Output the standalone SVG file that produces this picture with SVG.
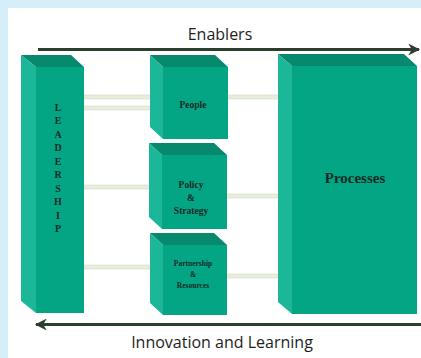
<svg xmlns="http://www.w3.org/2000/svg" width="421" height="358" viewBox="0 0 421 358">
<defs>
<style>
.front{fill:#03a585}
.left{fill:#1cb698}
.top{fill:#07896d}
.lbl{font-family:"Liberation Serif",serif;font-weight:bold;fill:#132a25;text-anchor:middle}
.cap{font-family:"Open Sans","Liberation Sans",sans-serif;font-size:16px;fill:#1e1e1e;text-anchor:middle}
.bar{fill:#e6eddc;stroke:#d2dcc6;stroke-width:0.6}
.arr{stroke:#2c3e2e;stroke-width:3;fill:none}
</style>
<marker id="ah" viewBox="0 0 10 10" refX="9" refY="5" markerWidth="4" markerHeight="4" orient="auto-start-reverse" markerUnits="strokeWidth">
<path d="M0,0 L10,5 L0,10 L3,5 Z" fill="#2c3e2e"/>
</marker>
</defs>
<rect x="0" y="0" width="421" height="358" fill="#d6eef9"/>
<rect x="8" y="8" width="413" height="350" fill="#ffffff"/>

<g id="connectors">
<line class="arr" x1="38" y1="49.5" x2="419" y2="49.5" marker-end="url(#ah)"/>
<line class="arr" x1="421" y1="324.5" x2="36" y2="324.5" marker-end="url(#ah)"/>
<rect class="bar" x="84" y="95" width="68" height="4"/>
<rect class="bar" x="84" y="106" width="68" height="4"/>
<rect class="bar" x="84" y="185" width="70" height="4"/>
<rect class="bar" x="84" y="265" width="67" height="4"/>
<rect class="bar" x="223" y="95" width="59" height="4"/>
<rect class="bar" x="223" y="194" width="59" height="4"/>
<rect class="bar" x="223" y="274" width="59" height="4"/>
</g>

<g id="leadership">
<polygon class="top" points="21,55 71,55 84,67 36,67"/>
<polygon class="left" points="21,55 36,67 36,313 21,301"/>
<rect class="front" x="36" y="67" width="48" height="246"/>
<g class="lbl" font-size="10">
<text x="58" y="111">L</text><text x="58" y="124">E</text><text x="58" y="138">A</text><text x="58" y="151">D</text><text x="58" y="165">E</text><text x="58" y="178">R</text><text x="58" y="192">S</text><text x="58" y="205">H</text><text x="58" y="219">I</text><text x="58" y="232">P</text>
</g>
</g>

<g id="people">
<polygon class="top" points="150,55 215,55 228,67 163,67"/>
<polygon class="left" points="150,55 163,67 163,139 150,127"/>
<rect class="front" x="163" y="67" width="65" height="72"/>
<text class="lbl" x="193" y="108" font-size="9.5">People</text>
</g>

<g id="policy">
<polygon class="top" points="149,143 214,143 227,155 162,155"/>
<polygon class="left" points="149,143 162,155 162,229 149,217"/>
<rect class="front" x="162" y="155" width="65" height="74"/>
<text class="lbl" x="191" y="188" font-size="9.5">Policy</text>
<text class="lbl" x="191" y="201" font-size="9.5">&amp;</text>
<text class="lbl" x="191" y="214" font-size="9.5">Strategy</text>
</g>

<g id="partnership">
<polygon class="top" points="150,233 214,233 227,245 163,245"/>
<polygon class="left" points="150,233 163,245 163,315 150,303"/>
<rect class="front" x="163" y="245" width="64" height="70"/>
<text class="lbl" x="193" y="266" font-size="7.5">Partnership</text>
<text class="lbl" x="193" y="277" font-size="7.5">&amp;</text>
<text class="lbl" x="193" y="288" font-size="7.5">Resources</text>
</g>

<g id="processes">
<polygon class="top" points="278,54 404,54 417,66 292,66"/>
<polygon class="left" points="278,54 292,66 292,314 278,302"/>
<rect class="front" x="292" y="66" width="125" height="248"/>
<text class="lbl" x="355" y="183" font-size="15">Processes</text>
</g>

<text class="cap" x="220" y="40">Enablers</text>
<text class="cap" x="222" y="348">Innovation and Learning</text>
</svg>
